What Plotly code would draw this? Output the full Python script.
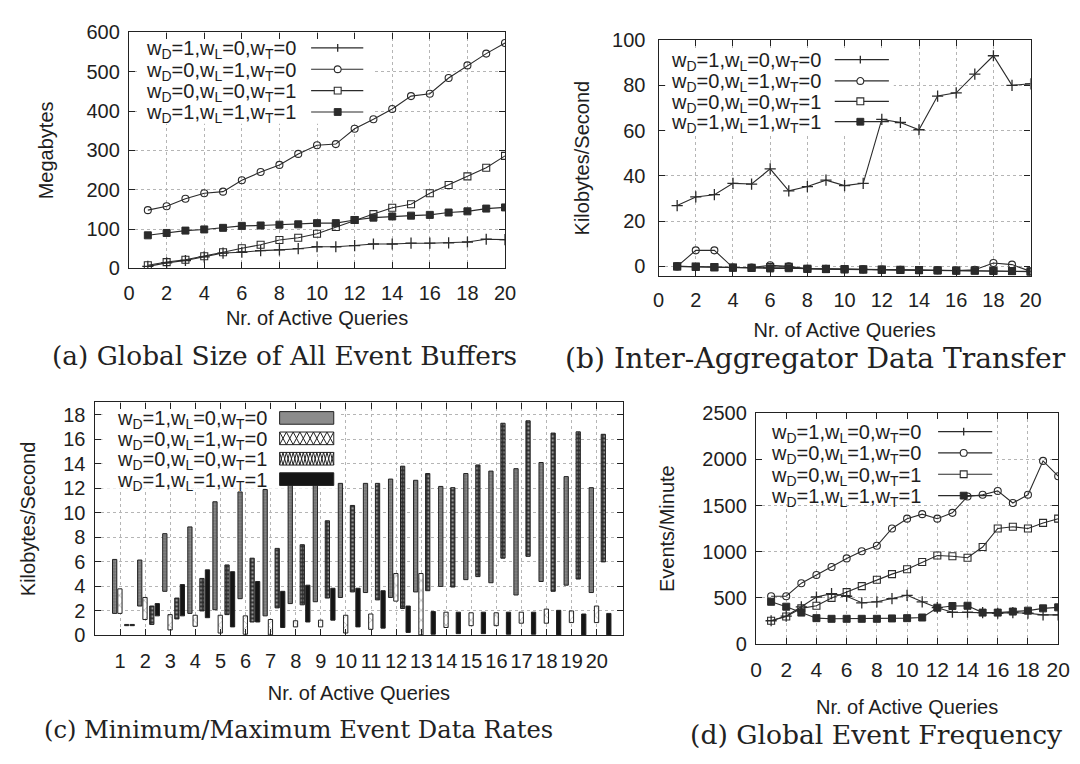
import plotly.graph_objects as go

# ---------------- data ----------------
queries = list(range(1, 21))
series_names = [
    "w<sub>D</sub>=1,w<sub>L</sub>=0,w<sub>T</sub>=0",
    "w<sub>D</sub>=0,w<sub>L</sub>=1,w<sub>T</sub>=0",
    "w<sub>D</sub>=0,w<sub>L</sub>=0,w<sub>T</sub>=1",
    "w<sub>D</sub>=1,w<sub>L</sub>=1,w<sub>T</sub>=1",
]

# (a) Global size of all event buffers (Megabytes)
buf_d = [5, 14, 20, 29, 39, 41, 45, 47, 50, 55, 55, 58, 62, 62, 64, 64, 65, 67, 74, 73]
buf_l = [148, 158, 177, 191, 195, 224, 245, 263, 291, 313, 316, 355, 379, 405, 438, 444, 484, 516, 546, 573]
buf_t = [8, 16, 22, 31, 41, 51, 60, 72, 78, 88, 105, 123, 138, 154, 163, 191, 212, 234, 256, 286]
buf_all = [84, 90, 96, 99, 103, 108, 109, 111, 112, 115, 115, 123, 129, 132, 134, 136, 142, 145, 152, 155]

# (b) Inter-aggregator data transfer (Kilobytes/Second)
tr_d = [26.9, 30.7, 31.7, 36.7, 36.4, 43.1, 33.4, 35.3, 38.1, 35.7, 36.7, 65.0, 63.6, 60.4, 75.3, 76.7, 85.0, 93.1, 80.0, 80.7]
tr_l = [0.0, 7.1, 7.1, -0.5, -0.5, 0.5, 0.0, -1.0, -1.1, -1.2, -1.3, -1.4, -1.5, -1.6, -1.7, -1.8, -1.5, 1.5, 0.8, -2.2]
tr_t = [0.0, -0.1, -0.3, -0.5, -0.6, -0.3, -0.2, -1.0, -1.1, -1.2, -1.3, -1.4, -1.5, -1.6, -1.7, -1.8, -1.8, -1.9, -2.0, -2.2]
tr_all = [0.0, -0.2, -0.4, -0.6, -0.7, -0.9, -0.8, -1.1, -1.2, -1.3, -1.4, -1.5, -1.6, -1.7, -1.8, -1.9, -1.9, -2.0, -2.1, -2.3]

# (c) Minimum / maximum event data rates (Kilobytes/Second)
rate_d_min = [1.8, 2.4, 3.6, 1.8, 2.1, 3.0, 1.6, 2.6, 2.75, 3.1, 3.5, 3.1, 3.55, 4.0, 4.55, 4.3, 3.3, 4.4, 4.1, 3.5]
rate_d_max = [6.2, 6.15, 8.3, 8.85, 10.9, 11.7, 11.9, 12.3, 12.3, 12.4, 12.4, 12.75, 12.65, 12.15, 13.2, 13.4, 13.6, 14.1, 12.95, 12.05]
rate_l_min = [1.8, 1.3, 0.45, 0.75, 0.2, 0.1, 0.05, 0.7, 0.7, 0.2, 0.5, 2.8, 0.05, 0.65, 0.8, 0.8, 1.0, 1.0, 1.05, 1.05]
rate_l_max = [3.8, 3.1, 1.7, 1.65, 1.65, 1.6, 1.3, 1.2, 1.25, 1.65, 1.75, 5.05, 5.05, 1.9, 1.85, 1.85, 1.9, 2.15, 2.0, 2.4]
rate_t_min = [0.8, 0.9, 1.35, 2.0, 1.7, 1.1, 2.25, 2.5, 3.05, 3.55, 2.9, 2.2, 3.65, 3.95, 4.8, 6.3, 6.45, 3.6, 4.6, 6.0]
rate_t_max = [0.9, 2.4, 3.05, 4.65, 5.75, 6.3, 7.1, 7.4, 9.35, 10.6, 12.4, 13.8, 13.2, 12.05, 13.9, 17.3, 17.5, 16.5, 16.6, 16.4]
rate_all_min = [0.8, 1.6, 1.6, 1.45, 0.7, 1.1, 0.65, 1.1, 1.25, 0.7, 0.6, 0.25, 0.1, 0.15, 0.15, 0.1, 0.1, 0.05, 0.05, 0.05]
rate_all_max = [0.9, 2.6, 4.15, 5.35, 5.2, 4.4, 3.6, 4.1, 3.85, 3.85, 3.65, 2.4, 1.95, 1.9, 1.9, 1.9, 1.9, 2.05, 1.75, 1.8]

# (d) Global event frequency (Events/Minute)
fq_d = [254, 305, 405, 511, 547, 519, 448, 459, 494, 529, 459, 395, 346, 346, 342, 335, 342, 335, 317, 317]
fq_l = [519, 519, 660, 748, 836, 928, 1005, 1065, 1252, 1358, 1407, 1358, 1421, 1598, 1616, 1658, 1527, 1616, 1983, 1817]
fq_t = [254, 300, 388, 416, 501, 564, 628, 698, 758, 811, 889, 959, 952, 935, 1051, 1252, 1270, 1252, 1312, 1358]
fq_all = [459, 406, 342, 282, 275, 275, 275, 275, 279, 282, 289, 395, 413, 416, 342, 342, 353, 363, 388, 399]

captions = [
    "(a) Global Size of All Event Buffers",
    "(b) Inter-Aggregator Data Transfer",
    "(c) Minimum/Maximum Event Data Rates",
    "(d) Global Event Frequency",
]

# ---------------- style ----------------
INK = "#2b2b2b"
GRID = "#b5b5b5"
SANS = "Liberation Sans, Arial, sans-serif"
SERIF = "DejaVu Serif, serif"
W, H = 1080, 764

def px_x(p):
    return p / W

def px_y(p):
    return 1 - p / H

# pixel boxes of the four plot areas: (left, right, top, bottom)
BOX = {
    "a": (125, 507, 22, 265),
    "b": (663, 1041, 30, 273),
    "c": (90, 627, 403, 643),
    "d": (762, 1069, 414, 652),
}
RANGES = {
    "a": ([0, 20], [0, 600]),
    "b": ([0, 20], [-4.3, 100]),
    "c": ([-0.02, 21.05], [0, 19]),
    "d": ([0, 20], [0, 2500]),
}

marker_specs = [
    dict(symbol="cross-thin", size=8, color=INK, line=dict(width=1.3, color=INK)),
    dict(symbol="circle-open", size=7, color=INK, line=dict(width=1.1, color=INK)),
    dict(symbol="square-open", size=7, color=INK, line=dict(width=1.1, color=INK)),
    dict(symbol="square", size=7, color=INK, line=dict(width=1, color=INK)),
]

fig = go.Figure()

def add_lines(xa, ya, ys):
    for i, yv in enumerate(ys):
        fig.add_trace(go.Scatter(
            x=queries, y=yv, xaxis=xa, yaxis=ya, mode="lines+markers",
            name=series_names[i], showlegend=False,
            line=dict(color=INK, width=1.1), marker=marker_specs[i],
        ))

add_lines("x", "y", [buf_d, buf_l, buf_t, buf_all])
add_lines("x2", "y2", [tr_d, tr_l, tr_t, tr_all])
add_lines("x4", "y4", [fq_d, fq_l, fq_t, fq_all])

# (c) floating bars
bar_styles = [
    dict(color="#8c8c8c", pattern=dict(shape=".", fgcolor="#3a3a3a", bgcolor="#939393", size=3, solidity=0.5)),
    dict(color="white", pattern=dict(shape="x", fgcolor="#333333", bgcolor="white", size=7, solidity=0.15)),
    dict(color="#2a2a2a", pattern=dict(shape=".", fgcolor="white", bgcolor="#2e2e2e", size=4, solidity=0.35)),
    dict(color="#151515"),
]
bar_centers = [-0.22, -0.01, 0.26, 0.48]
bar_width = 0.17
mins = [rate_d_min, rate_l_min, rate_t_min, rate_all_min]
maxs = [rate_d_max, rate_l_max, rate_t_max, rate_all_max]
for i in range(4):
    heights = [hi - lo for lo, hi in zip(mins[i], maxs[i])]
    st = dict(bar_styles[i])
    st["line"] = dict(color="#222222", width=1)
    fig.add_trace(go.Bar(
        x=queries, y=heights, base=mins[i], xaxis="x3", yaxis="y3",
        offset=bar_centers[i] - bar_width / 2, width=bar_width,
        name=series_names[i], showlegend=False, marker=st,
    ))

# ---------------- axes ----------------
def axis_common(**kw):
    d = dict(
        showline=True, linecolor="#222222", linewidth=1.3, mirror="allticks",
        ticks="inside", ticklen=6, tickwidth=1.2, tickcolor="#222222",
        showgrid=True, gridcolor=GRID, griddash="dot", gridwidth=1,
        zeroline=False, tickfont=dict(family=SANS, size=20, color="#1e1e1e"),
    )
    d.update(kw)
    return d

title_font = dict(family=SANS, size=20, color="#1e1e1e")

def xdom(k):
    l, r, t, b = BOX[k]
    return [px_x(l), px_x(r)]

def ydom(k):
    l, r, t, b = BOX[k]
    return [px_y(b), px_y(t)]

fig.update_layout(
    xaxis=axis_common(domain=xdom("a"), range=RANGES["a"][0], dtick=2, anchor="y",
                      ticklabelstandoff=6,
                      title=dict(text="Nr. of Active Queries", font=title_font, standoff=8)),
    yaxis=axis_common(domain=ydom("a"), range=RANGES["a"][1], dtick=100, anchor="x",
                      ticklabelstandoff=4,
                      title=dict(text="Megabytes", font=title_font, standoff=27)),
    xaxis2=axis_common(domain=xdom("b"), range=RANGES["b"][0], dtick=2, anchor="y2",
                       ticklabelstandoff=6,
                       title=dict(text="Nr. of Active Queries", font=title_font, standoff=12)),
    yaxis2=axis_common(domain=ydom("b"), range=RANGES["b"][1], tickvals=[0, 20, 40, 60, 80, 100],
                       anchor="x2", ticklabelstandoff=8,
                       title=dict(text="Kilobytes/Second", font=title_font, standoff=17)),
    xaxis3=axis_common(domain=xdom("c"), range=RANGES["c"][0], tickvals=queries,
                       anchor="y3", ticklabelstandoff=7,
                       title=dict(text="Nr. of Active Queries", font=title_font, standoff=15)),
    yaxis3=axis_common(domain=ydom("c"), range=RANGES["c"][1], dtick=2, anchor="x3",
                       ticklabelstandoff=4,
                       title=dict(text="Kilobytes/Second", font=title_font, standoff=22)),
    xaxis4=axis_common(domain=xdom("d"), range=RANGES["d"][0], dtick=2, anchor="y4",
                       ticklabelstandoff=6, tickfont=dict(family=SANS, size=21, color="#1e1e1e"),
                       title=dict(text="Nr. of Active Queries", font=title_font, standoff=20)),
    yaxis4=axis_common(domain=ydom("d"), range=RANGES["d"][1], dtick=500, anchor="x4",
                       ticklabelstandoff=4,
                       title=dict(text="Events/Minute", font=title_font, standoff=22)),
)

# ---------------- key (gnuplot style: text left, sample right) ----------------
AXREF = {"a": ("x", "y"), "b": ("x2", "y2"), "c": ("x3", "y3"), "d": ("x4", "y4")}

def data_x(k, p):
    l, r, t, b = BOX[k]
    lo, hi = RANGES[k][0]
    return lo + (p - l) / (r - l) * (hi - lo)

def data_y(k, p):
    l, r, t, b = BOX[k]
    lo, hi = RANGES[k][1]
    return lo + (b - p) / (b - t) * (hi - lo)

def key_background(k, x0, x1, y0, y1):
    # white panel that hides the grid behind the key (drawn below the data)
    xa, ya = AXREF[k]
    fig.add_shape(type="rect", xref=xa, yref=ya,
                  x0=data_x(k, x0), x1=data_x(k, x1), y0=data_y(k, y1), y1=data_y(k, y0),
                  fillcolor="white", line=dict(width=0), layer="between")

def key_text(txt, right, yrow, size=20):
    fig.add_annotation(text=txt, x=px_x(right), y=px_y(yrow + 2), xref="paper", yref="paper",
                       xanchor="right", yanchor="middle", showarrow=False,
                       font=dict(family=SANS, size=size, color="#1e1e1e"))

def key_line_sample(i, x0, x1, xm, yrow):
    fig.add_shape(type="line", xref="paper", yref="paper",
                  x0=px_x(x0), x1=px_x(x1), y0=px_y(yrow), y1=px_y(yrow),
                  line=dict(color=INK, width=1.2))
    r = 3.5
    if i == 0:
        fig.add_shape(type="line", xref="paper", yref="paper",
                      x0=px_x(xm), x1=px_x(xm), y0=px_y(yrow - 4), y1=px_y(yrow + 4),
                      line=dict(color=INK, width=1.3))
    elif i == 1:
        fig.add_shape(type="circle", xref="paper", yref="paper",
                      x0=px_x(xm - r), x1=px_x(xm + r), y0=px_y(yrow + r), y1=px_y(yrow - r),
                      fillcolor="white", line=dict(color=INK, width=1.1))
    elif i == 2:
        fig.add_shape(type="rect", xref="paper", yref="paper",
                      x0=px_x(xm - r), x1=px_x(xm + r), y0=px_y(yrow + r), y1=px_y(yrow - r),
                      fillcolor="white", line=dict(color=INK, width=1.1))
    else:
        fig.add_shape(type="rect", xref="paper", yref="paper",
                      x0=px_x(xm - r), x1=px_x(xm + r), y0=px_y(yrow + r), y1=px_y(yrow - r),
                      fillcolor=INK, line=dict(color=INK, width=1))

line_keys = [
    ("a", 297, [38, 60, 82, 104], (310, 363, 337), (133, 372, 26, 116)),
    ("b", 830, [50, 72, 93, 114], (842, 897, 868), (670, 902, 38, 126)),
    ("d", 932, [433, 455, 477, 499], (947, 1002, 973), (768, 1006, 420, 508)),
]
for k, right, rows, (lx0, lx1, lxm), (bx0, bx1, by0, by1) in line_keys:
    key_background(k, bx0, bx1, by0, by1)
    for i, yrow in enumerate(rows):
        key_text(series_names[i], right, yrow)
        key_line_sample(i, lx0, lx1, lxm, yrow)

# key of panel (c): filled boxes
key_background("c", 98, 340, 406, 492)
c_rows = [419, 440, 461, 482]
rx0, rx1, rh = 278, 333, 6.5

def zigzag_path(x0, x1, yt, yb, n, phase):
    cw = (x1 - x0) / n
    pts = []
    for j in range(n + 1):
        up = (j + phase) % 2 == 0
        pts.append((px_x(x0 + j * cw), px_y(yt if up else yb)))
    return "M " + " L ".join(f"{a:.5f},{b:.5f}" for a, b in pts)

key_fills = ["#8c8c8c", "white", "white", "#151515"]
for i, yrow in enumerate(c_rows):
    key_text(series_names[i], 267, yrow)
    fig.add_shape(type="rect", xref="paper", yref="paper",
                  x0=px_x(rx0), x1=px_x(rx1), y0=px_y(yrow + rh), y1=px_y(yrow - rh),
                  fillcolor=key_fills[i], line=dict(color="#222222", width=1))
    if i in (1, 2):
        n = 8 if i == 1 else 16
        for ph in (0, 1):
            fig.add_shape(type="path", xref="paper", yref="paper",
                          path=zigzag_path(rx0, rx1, yrow - rh, yrow + rh, n, ph),
                          line=dict(color="#222222", width=1))

# ---------------- captions ----------------
cap_pos = [(283, 355, 26.4), (822, 358, 28.2), (297, 740, 24.2), (884, 745, 26.6)]
for text, (cx, cy, fs) in zip(captions, cap_pos):
    fig.add_annotation(text=text, x=px_x(cx), y=px_y(cy), xref="paper", yref="paper",
                       xanchor="center", yanchor="middle", showarrow=False,
                       font=dict(family=SERIF, size=fs, color="#222222"))

fig.update_layout(
    width=W, height=H, margin=dict(l=0, r=0, t=0, b=0),
    paper_bgcolor="white", plot_bgcolor="white",
    barmode="overlay", showlegend=False,
)

fig.write_html("out.html", config={"displayModeBar": False},
               post_script="document.body.style.margin='0';")
